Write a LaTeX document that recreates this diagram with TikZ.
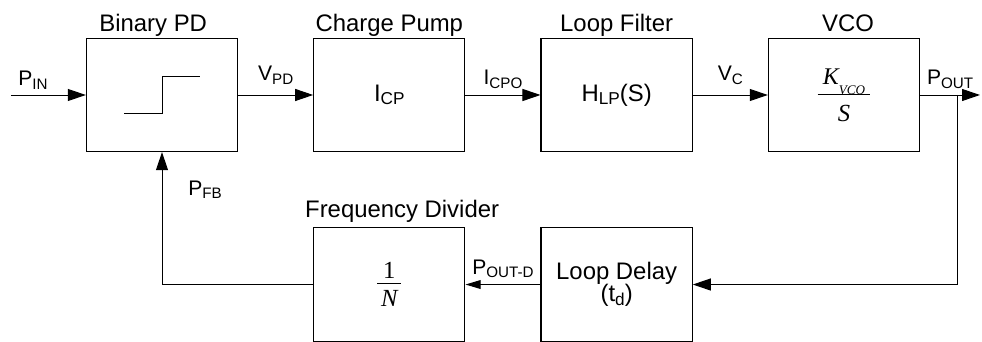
\documentclass[tikz,border=0pt]{standalone}
\usepackage{fontspec}
\setmainfont{Liberation Sans}
\newfontfamily\timesfont{Liberation Serif}
\usetikzlibrary{arrows.meta, positioning, calc}
\newcommand{\sub}[1]{\raisebox{-0.15em}{\scalebox{0.72}{#1}}}
% fraction as a one-column table: bar width, numerator, denominator, depth above bar, height below bar
\newcommand{\barfrac}[5]{{\setlength{\arrayrulewidth}{0.7pt}\renewcommand{\arraystretch}{0}%
  \begin{tabular}{@{}c@{}}\makebox[#1]{#2}\rule[-#4]{0pt}{#4}\\\hline\rule{0pt}{#5}#3\end{tabular}}}

\begin{document}
\begin{tikzpicture}[
    blk/.style={draw, line width=0.8pt, minimum width=3.78cm, minimum height=2.83cm, align=center, font=\fontsize{17}{20}\selectfont},
    ttl/.style={font=\fontsize{17}{20}\selectfont, inner sep=0pt, anchor=base},
    sig/.style={font=\fontsize{15}{18}\selectfont, inner sep=0pt, anchor=base},
    wire/.style={line width=0.7pt},
    arr/.style={wire, -{Triangle[length=0.45cm, width=0.3cm]}}]
        \useasboundingbox (0,0) rectangle (24.55,8.55);
        % forward path
        \node[blk] (pd) at (4.05,6.175) {};
        \node[blk, right=1.875cm of pd] (cp) {I\sub{CP}};
        \node[blk, right=1.875cm of cp] (lf) {H\sub{LP}(S)};
        \node[blk, right=1.875cm of lf] (vco) {\timesfont\itshape
            \barfrac{1.32cm}{\fontsize{17}{17}\selectfont K\raisebox{-0.42em}{\scalebox{0.55}{VCO}}}{\fontsize{17.5}{17.5}\selectfont S}{7pt}{18.3pt}};
        % feedback path
        \node[blk, below=1.88cm of cp] (div) {\timesfont
            \barfrac{0.6cm}{\fontsize{17.5}{17.5}\selectfont 1}{\fontsize{17.5}{17.5}\selectfont\itshape N}{3pt}{16.6pt}};
        \node[blk, right=1.875cm of div, font=\fontsize{17}{16}\selectfont] (dly) {Loop Delay\\(t\sub{d})};
        % block titles
        \node[ttl] at ($(pd.north)+(-0.22,0.15)$) {Binary PD};
        \node[ttl] at ($(cp.north)+(0,0.15)$) {Charge Pump};
        \node[ttl] at ($(lf.north)+(0,0.15)$) {Loop Filter};
        \node[ttl] at ($(vco.north)+(0.1,0.15)$) {VCO};
        \node[ttl] at ($(div.north)+(0.32,0.25)$) {Frequency Divider};
        % step symbol of the phase detector
        \draw[wire] ($(pd.center)+(-0.95,-0.47)$) -- ++(0.95,0) -- ++(0,0.94) -- ++(0.95,0);
        % connectors
        \coordinate (in) at (0.275,6.175);
        \coordinate (out) at (24.5,6.175);
        \coordinate (br) at ($(vco.east)+(0.93,0)$);
        \draw[arr] (in) -- (pd);
        \node[sig, anchor=base west] at ($(in)+(0.175,0.225)$) {P\sub{IN}};
        \draw[arr] (pd) -- (cp) node[sig, midway, yshift=0.35cm] {V\sub{PD}};
        \draw[arr] (cp) -- (lf) node[sig, midway, yshift=0.25cm] {I\sub{CPO}};
        \draw[arr] (lf) -- (vco) node[sig, midway, yshift=0.35cm] {V\sub{C}};
        \draw[arr] (vco) -- (out) node[sig, midway, yshift=0.25cm] {P\sub{OUT}};
        \draw[arr] (br) |- (dly);
        \draw[wire, -{Triangle[length=0.38cm, width=0.22cm]}] (dly) -- (div) node[sig, midway, yshift=0.26cm] {P\sub{OUT-D}};
        \draw[arr] (div) -| (pd);
        \node[sig, anchor=base west] at ($(pd.south)+(0.65,-1.08)$) {P\sub{FB}};
    \end{tikzpicture}
\end{document}
